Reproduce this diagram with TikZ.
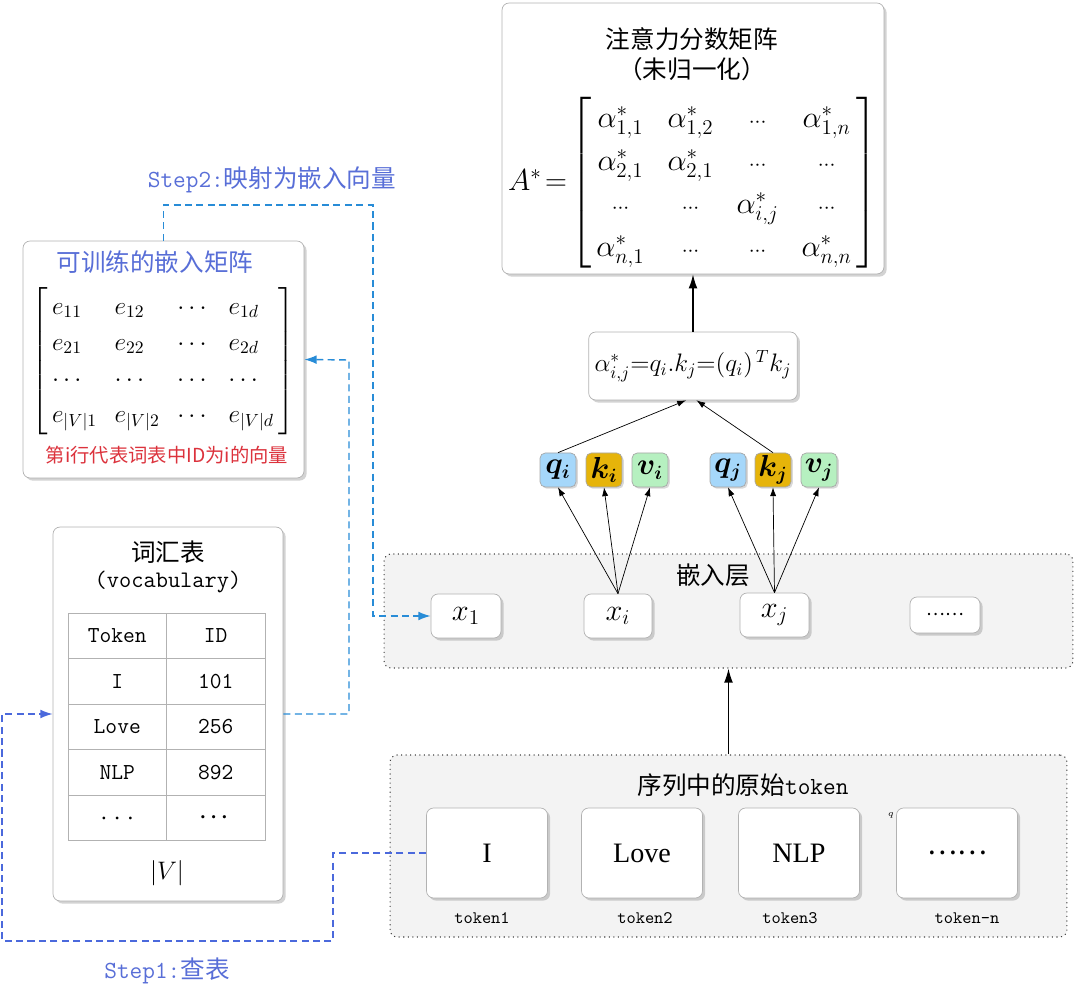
\documentclass[tikz,border=0pt]{standalone}
\usepackage{amsmath, amssymb}
\usepackage{fontspec}
\usepackage{tikz}
\usetikzlibrary{calc, shadows, arrows.meta, matrix}
\usepackage{xcolor}
\newfontfamily\cjk{Noto Sans CJK SC}
\newfontfamily\tnr{Liberation Serif}
\definecolor{stepblue}{RGB}{88,110,215}
\definecolor{linkcyan}{RGB}{40,140,215}
\definecolor{linkblue}{RGB}{75,105,220}
\definecolor{notered}{RGB}{220,50,60}
\definecolor{layergray}{RGB}{243,243,243}
\definecolor{qblue}{RGB}{165,215,250}
\definecolor{kgold}{RGB}{230,180,10}
\definecolor{vgreen}{RGB}{182,240,192}
\newcommand\mdots{{\scriptstyle\cdots}}

\begin{document}
\begin{tikzpicture}[x=0.02cm, y=-0.02cm,
    card/.style={draw=gray!60, rounded corners=4pt, fill=white,
      drop shadow={shadow xshift=1.5pt, shadow yshift=-1.5pt, opacity=0.35}},
    layerbox/.style={draw=black!75, dotted, semithick, rounded corners=4pt, fill=layergray},
    qkvbox/.style={draw=black!35, rounded corners=3pt, minimum width=0.72cm, minimum height=0.68cm,
      inner sep=0pt, drop shadow={shadow xshift=1pt, shadow yshift=-1pt, opacity=0.3}},
    zh/.style={font=\cjk\fontsize{14}{16}\selectfont},
    cyanlink/.style={draw=linkcyan, dash pattern=on 4pt off 2.5pt, thick, -{Latex[length=7pt,width=5pt]}},
    bluelink/.style={draw=linkblue, dash pattern=on 4pt off 2.5pt, thick, -{Latex[length=7pt,width=5pt]}},
    feed/.style={-{Latex[length=5pt,width=3.5pt]}, thin}]
  \useasboundingbox (0,0) rectangle (1080,996);

  \node[card, minimum width=7.64cm, minimum height=5.42cm] (attn) at (693,138.5) {};
  \node[zh] (attnT) at (692,39) {注意力分数矩阵};
  \node[zh] (attnS) at (692,69) {（未归一化）};
  \node[inner sep=0pt] (amat) at (693,183) {\fontsize{18}{24.5}\selectfont\setlength\arraycolsep{6.5pt}%
    $A^*\!=\!\left[\begin{array}{@{\,}cccc@{\,}}
      \alpha^*_{1,1} & \alpha^*_{1,2} & \mdots & \alpha^*_{1,n}\\
      \alpha^*_{2,1} & \alpha^*_{2,1} & \mdots & \mdots\\
      \mdots & \mdots & \alpha^*_{i,j} & \mdots\\
      \alpha^*_{n,1} & \mdots & \mdots & \alpha^*_{n,n}
    \end{array}\right]$};

  \node[card, minimum width=3.8cm, minimum height=1.36cm] (score) at (693,366)
    {\fontsize{14}{17}\selectfont\thickmuskip=0mu $\alpha^*_{i,j}=q_i.k_j=(q_i)^{\,T}k_j$};
  \draw[-{Latex[length=8pt,width=5pt]}, thick] (score.north) -- (attn.south);

  \foreach \n/\x/\c/\t in {qi/558/qblue/q_i, ki/604/kgold/k_i, vi/650/vgreen/v_i,
                           qj/728/qblue/q_j, kj/773/kgold/k_j, vj/819/vgreen/v_j}
    \node[qkvbox, fill=\c] (\n) at (\x,470) {\fontsize{16}{18}\selectfont $\boldsymbol{\t}$};
  \draw[feed] (qi.north) -- ([xshift=-4pt]score.south);
  \draw[feed] (kj.north) -- ([xshift=2pt]score.south);

  \node[layerbox, minimum width=13.78cm, minimum height=2.28cm] (emb) at (728.5,611) {};
  \node[zh] (embT) at (713,575) {嵌入层};
  \node[card, minimum width=1.4cm, minimum height=0.88cm] (x1) at (466,616) {\fontsize{17}{19}\selectfont $x_1$};
  \node[card, minimum width=1.36cm, minimum height=0.88cm] (xi) at (618,616) {\fontsize{17}{19}\selectfont $x_i$};
  \node[card, minimum width=1.38cm, minimum height=0.88cm] (xj) at (774.5,615) {\fontsize{17}{19}\selectfont $x_j$};
  \node[card, minimum width=1.4cm, minimum height=0.72cm] (xn) at (945,615) {\cjk ……};
  \foreach \t in {qi,ki,vi} \draw[feed] (xi.north) -- (\t.south);
  \foreach \t in {qj,kj,vj} \draw[feed] (xj.north) -- (\t.south);

  \node[layerbox, minimum width=13.54cm, minimum height=3.64cm] (tok) at (728.5,846) {};
  \node[zh] (tokT) at (743,785) {序列中的原始{\ttfamily token}};
  \foreach \n/\x/\w/\l/\lx in {tokI/487/I/token1/482, tokLove/642/Love/token2/645,
                               tokNLP/799/NLP/token3/790, tokN/957/{\cjk ……}/token-n/967} {
    \node[card, minimum width=2.42cm, minimum height=1.8cm, font=\tnr\fontsize{16}{18}\selectfont] (\n) at (\x,853) {\w};
    \node[font=\ttfamily\fontsize{10}{12}\selectfont] (\n lab) at (\lx,918) {\l};
  }
  \node[font=\fontsize{5}{6}\selectfont] (stray) at (891,815) {$q$};
  \draw[-{Latex[length=8pt,width=5pt]}, thick] (tok.north) -- (emb.south);

  \node[card, minimum width=5.62cm, minimum height=4.74cm] (embmat) at (163.5,359.5) {};
  \node[zh, text=stepblue] (embmatT) at (155,262) {可训练的嵌入矩阵};
  \node[inner sep=0pt] (emat) at (163,361) {\fontsize{14}{20.5}\selectfont\setlength\arraycolsep{5pt}%
    $\left[\begin{array}{@{\,}llll@{\,}}
      e_{11} & e_{12} & \cdots & e_{1d}\\
      e_{21} & e_{22} & \cdots & e_{2d}\\
      \cdots & \cdots & \cdots & \cdots\\
      e_{|V|1} & e_{|V|2} & \cdots & e_{|V|d}
    \end{array}\right]$};
  \node[font=\cjk\fontsize{11}{13}\selectfont, text=notered] (embmatN) at (167,455) {第i行代表词表中ID为i的向量};

  \node[card, minimum width=4.6cm, minimum height=7.48cm] (vocab) at (168,714) {};
  \node[zh] (vocabT) at (168,552) {词汇表};
  \node[font=\ttfamily\fontsize{13.5}{16}\selectfont] (vocabS) at (168,582) {(vocabulary)};
  \matrix[matrix of nodes, column sep=-0.4pt, row sep=-0.4pt,
    nodes={draw=gray!60, minimum width=1.97cm, minimum height=0.91cm, anchor=center,
      font=\ttfamily\fontsize{13}{15}\selectfont}] (vtab) at (166.5,727) {
    Token & ID \\
    I & 101 \\
    Love & 256 \\
    NLP & 892 \\
    {\tnr . . .} & $\boldsymbol{\cdots}$ \\
  };
  \node[font=\fontsize{15}{18}\selectfont] (vsize) at (167,873) {$|V|$};

  \node[zh, text=stepblue] (step2) at (272,180) {{\ttfamily Step2:}映射为嵌入向量};
  \node[zh, text=stepblue] (step1) at (167,971) {{\ttfamily Step1:}查表};

  \coordinate (s2bend) at (373,205);
  \draw[cyanlink] (embmat.north) |- (s2bend) |- (x1.west);
  \coordinate (vbend) at (349,360);
  \draw[cyanlink] (vocab.east) -| (vbend) -- (embmat.east);
  \coordinate (s1a) at (333,941);
  \coordinate (s1b) at (2,714);
  \draw[bluelink] (tokI.west) -| (s1a) -| (s1b) -- (vocab.west);
\end{tikzpicture}
\end{document}
